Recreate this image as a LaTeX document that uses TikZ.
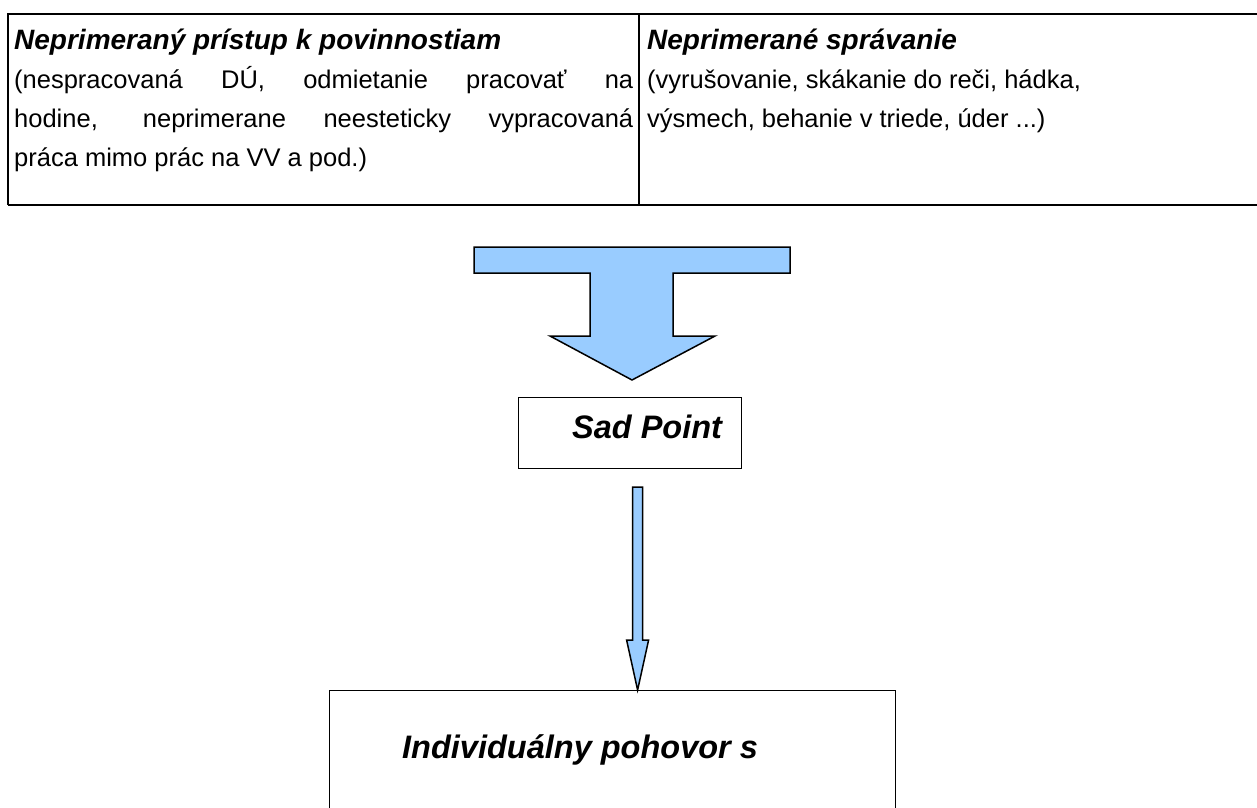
\documentclass[tikz,border=0pt]{standalone}
\usepackage{fontspec}
\setmainfont{Liberation Sans}
\usetikzlibrary{calc}
\definecolor{arrowblue}{HTML}{99CCFF}
\tikzset{
  rule/.style={line width=1.2pt, black},
  headtxt/.style={inner sep=0pt, anchor=base west, font=\fontsize{28}{32}\selectfont\bfseries\itshape},
  bodytxt/.style={inner sep=0pt, anchor=base west, font=\fontsize{25.5}{39}\selectfont},
  labeltxt/.style={inner sep=0pt, anchor=base west, font=\fontsize{32.5}{36}\selectfont\bfseries\itshape},
  framebox/.style={draw, line width=1.2pt, inner sep=0pt, anchor=north west},
  blockarrow/.style={draw, line width=1.5pt, fill=arrowblue, line join=miter}
}
\begin{document}
\begin{tikzpicture}[x=1pt,y=-1pt]
\clip (0,0) rectangle (1257,807);
\fill[white] (0,0) rectangle (1257,807);
% table
\draw[rule] (8,205) -- (8,14) -- (1257,14);
\draw[rule] (639,14) -- (639,205);
\draw[rule] (8,205) -- (1257,205);
% left column
\node[headtxt] (h1) at (14,49) {Neprimeraný prístup k povinnostiam};
\node[bodytxt] (l1) at (14,88) {\makebox[619pt][s]{(nespracovaná DÚ, odmietanie pracovať na}};
\node[bodytxt] (l2) at (14,127) {\makebox[619pt][s]{hodine, neprimerane neesteticky vypracovaná}};
\node[bodytxt] (l3) at (14,166) {práca mimo prác na VV a pod.)};
% right column
\node[headtxt] (h2) at (647,49) {Neprimerané správanie};
\node[bodytxt] (r1) at (647,88) {(vyrušovanie, skákanie do reči, hádka,};
\node[bodytxt] (r2) at (647,127) {výsmech, behanie v triede, úder ...)};
% Sad Point box
\node[framebox, minimum width=223pt, minimum height=71pt] (sp) at (518,397) {};
\node[labeltxt] (spt) at (572,438) {Sad Point};
% Individual talk box
\node[framebox, minimum width=566pt, minimum height=200pt] (ip) at (329,690) {};
\node[labeltxt] (ipt) at (402,758) {Individuálny pohovor s};
% T-shaped block arrow from the table into Sad Point
\coordinate (ttip) at (632,380);
\draw[blockarrow] (474,247) -- (790,247) -- (790,273) -- (673,273) -- (673,336)
  -- (715,336) -- (ttip) -- (550,336) -- (590,336) -- (590,273) -- (474,273) -- cycle;
% thin block arrow from Sad Point to the talk box
\coordinate (a2top) at ($(sp.south)+(7.5,18)$);
\coordinate (a2tip) at (a2top |- ip.north);
\draw[blockarrow] ($(a2top)+(-5,0)$) -- ($(a2top)+(5,0)$) -- ($(a2tip)+(5,-50)$)
  -- ($(a2tip)+(11,-50)$) -- (a2tip) -- ($(a2tip)+(-11,-50)$) -- ($(a2tip)+(-5,-50)$) -- cycle;
\end{tikzpicture}
\end{document}
